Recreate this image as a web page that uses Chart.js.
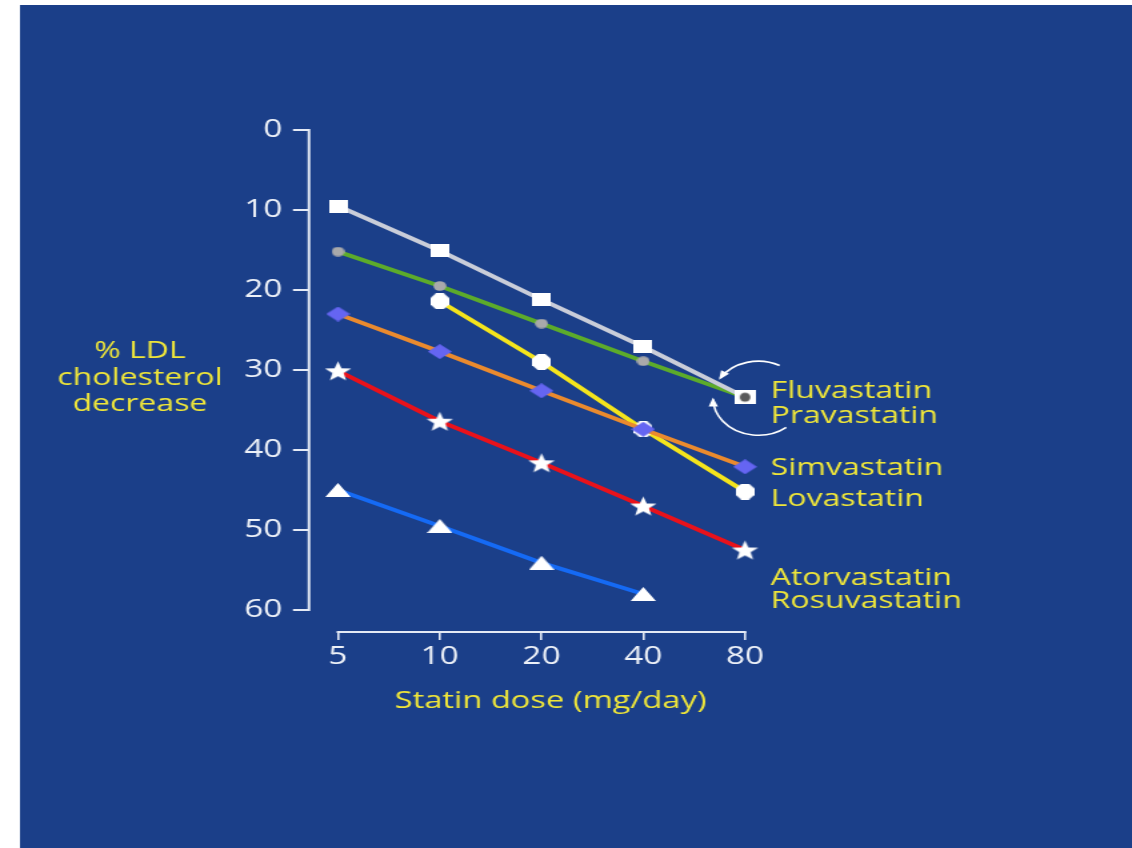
<!DOCTYPE html>
<html>
<head>
<meta charset="utf-8">
<script src="https://cdn.jsdelivr.net/npm/chart.js@4.4.1/dist/chart.umd.min.js"></script>
<style>
  html, body { margin: 0; padding: 0; background: #ffffff; }
  #chart { display: block; }
</style>
</head>
<body>
<!-- drawn on a narrower bitmap and widened by CSS, so the slide keeps its wide 4:3 look -->
<canvas id="chart" width="849" height="848" style="width:1132px;height:848px"></canvas>
<script>
// ---- data ----
const doses = ['5', '10', '20', '40', '80'];
const yTickValues = [0, 10, 20, 30, 40, 50, 60];
const fluvastatin  = [9.5, 15.1, 21.2, 27.1, 33.4];
const pravastatin  = [15.2, 19.5, 24.2, 28.9, 33.4];
const simvastatin  = [23.0, 27.7, 32.6, 37.4, 42.1];
const lovastatin   = [null, 21.4, 29.0, 37.4, 45.2];
const atorvastatin = [30.1, 36.4, 41.6, 47.0, 52.5];
const rosuvastatin = [45.0, 49.5, 54.1, 58.0, null];
const yTitleLines = ['% LDL', 'cholesterol', 'decrease'];
const xTitle = 'Statin dose (mg/day)';

// ---- look ----
const BG = '#1b3f89';
const AXIS = '#e4eaf5';
const YELLOW = '#efe63a';
const FONT = "'Open Sans', 'Noto Sans', sans-serif";

function toPoints(values) {
  const pts = [];
  values.forEach((v, i) => { if (v !== null) pts.push({ x: i, y: v }); });
  return pts;
}

function marker(w, h, paint) {
  const c = document.createElement('canvas');
  c.width = w; c.height = h;
  const g = c.getContext('2d');
  paint(g, w, h);
  return c;
}

const squareMark = marker(14, 13, (g, w, h) => { g.fillStyle = '#ffffff'; g.fillRect(0, 0, w, h); });
const pairMark = marker(16, 14, (g, w, h) => {
  g.fillStyle = '#ffffff'; g.fillRect(0, 0, w, h);
  g.fillStyle = '#5a5a5a';
  g.beginPath(); g.ellipse(w / 2, h / 2, 4, 4.5, 0, 0, Math.PI * 2); g.fill();
});
const dotMark = marker(10, 10, (g, w, h) => {
  g.fillStyle = '#a9a9ab';
  g.beginPath(); g.arc(w / 2, h / 2, 4.8, 0, Math.PI * 2); g.fill();
});
const diamondMark = marker(18, 15, (g, w, h) => {
  g.fillStyle = '#6565f2';
  g.beginPath(); g.moveTo(w / 2, 0); g.lineTo(w, h / 2); g.lineTo(w / 2, h); g.lineTo(0, h / 2); g.closePath(); g.fill();
});
const octagonMark = marker(14, 16, (g, w, h) => {
  g.fillStyle = '#ffffff';
  g.beginPath();
  for (let k = 0; k < 8; k++) {
    const a = Math.PI / 8 + k * Math.PI / 4;
    const px = w / 2 + (w / 2) * Math.cos(a) / Math.cos(Math.PI / 8);
    const py = h / 2 + (h / 2) * Math.sin(a) / Math.cos(Math.PI / 8);
    const qx = Math.max(0, Math.min(w, px)), qy = Math.max(0, Math.min(h, py));
    if (k === 0) g.moveTo(qx, qy); else g.lineTo(qx, qy);
  }
  g.closePath(); g.fill();
});
const starMark = marker(21, 21, (g, w, h) => {
  g.fillStyle = '#ffffff';
  g.beginPath();
  for (let k = 0; k < 10; k++) {
    const r = k % 2 === 0 ? 10.4 : 4.4;
    const a = -Math.PI / 2 + k * Math.PI / 5;
    const px = w / 2 + r * Math.cos(a), py = h / 2 + 1 + r * Math.sin(a);
    if (k === 0) g.moveTo(px, py); else g.lineTo(px, py);
  }
  g.closePath(); g.fill();
});
const triangleMark = marker(19, 14, (g, w, h) => {
  g.fillStyle = '#ffffff';
  g.beginPath(); g.moveTo(w / 2, 0); g.lineTo(w, h); g.lineTo(0, h); g.closePath(); g.fill();
});

function series(label, values, color, style) {
  return {
    label: label,
    data: toPoints(values),
    borderColor: color,
    backgroundColor: color,
    borderWidth: 4,
    pointStyle: style,
    pointRadius: 7,
    pointHoverRadius: 7,
    tension: 0,
    fill: false
  };
}

// the first dataset in this list is painted last (on top)
const datasets = [
  series('Fluvastatin', fluvastatin, '#c9cdd9', [squareMark, squareMark, squareMark, squareMark, pairMark]),
  series('Pravastatin', pravastatin, '#5cab2b', dotMark),
  series('Simvastatin', simvastatin, '#ea8a2e', diamondMark),
  series('Lovastatin', lovastatin, '#f4e41c', octagonMark),
  series('Atorvastatin', atorvastatin, '#e8121b', starMark),
  series('Rosuvastatin', rosuvastatin, '#156af4', triangleMark)
];

// names printed at the right-hand ends of the lines
const seriesNames = [
  { text: 'Fluvastatin', baseline: 397.5 },
  { text: 'Pravastatin', baseline: 423 },
  { text: 'Simvastatin', baseline: 475 },
  { text: 'Lovastatin', baseline: 506 },
  { text: 'Atorvastatin', baseline: 585 },
  { text: 'Rosuvastatin', baseline: 608 }
];

const slidePlugin = {
  id: 'slide',
  beforeDraw(chart) {
    const ctx = chart.ctx;
    ctx.save();
    ctx.fillStyle = '#ffffff';
    ctx.fillRect(0, 0, chart.width, chart.height);
    ctx.fillStyle = BG;
    ctx.fillRect(15, 5, chart.width - 15, chart.height - 5);
    ctx.restore();
  },
  beforeDatasetsDraw(chart) {
    const ctx = chart.ctx;
    const xs = chart.scales.x, ys = chart.scales.y;
    const area = chart.chartArea;
    ctx.save();
    ctx.strokeStyle = AXIS;
    ctx.lineWidth = 2;
    ctx.beginPath();
    ctx.moveTo(area.left, ys.getPixelForValue(yTickValues[0]) - 1);
    ctx.lineTo(area.left, ys.getPixelForValue(yTickValues[yTickValues.length - 1]) + 1);
    ctx.stroke();
    ctx.beginPath();
    ctx.moveTo(xs.getPixelForValue(0) - 1, area.bottom);
    ctx.lineTo(xs.getPixelForValue(doses.length - 1) + 1, area.bottom);
    ctx.stroke();
    ctx.restore();
  },
  afterDraw(chart) {
    const ctx = chart.ctx;
    const xs = chart.scales.x, ys = chart.scales.y;
    ctx.save();
    ctx.fillStyle = YELLOW;
    ctx.textBaseline = 'alphabetic';

    // axis titles
    ctx.font = '500 24px ' + FONT;
    ctx.textAlign = 'center';
    const yBase = [358, 385, 411];
    yTitleLines.forEach((t, i) => ctx.fillText(t, 105, yBase[i]));
    ctx.font = '500 24.5px ' + FONT;
    ctx.fillText(xTitle, 413, 708);

    // series names
    ctx.font = '500 24px ' + FONT;
    ctx.textAlign = 'left';
    seriesNames.forEach(n => ctx.fillText(n.text, 578, n.baseline));

    // curved arrows around the shared 80 mg end point
    const ex = xs.getPixelForValue(doses.length - 1);
    const ey = ys.getPixelForValue(fluvastatin[fluvastatin.length - 1]);
    const cx = ex + 10, cy = ey + 1, rx = 34, ry = 37;
    ctx.strokeStyle = '#ffffff';
    ctx.fillStyle = '#ffffff';
    ctx.lineWidth = 1.6;
    const deg = Math.PI / 180;
    function arrowHead(theta, dirSign) {
      const px = cx + rx * Math.cos(theta), py = cy + ry * Math.sin(theta);
      let dx = -rx * Math.sin(theta) * dirSign, dy = ry * Math.cos(theta) * dirSign;
      const len = Math.hypot(dx, dy); dx /= len; dy /= len;
      const nx = -dy, ny = dx, L = 7, W = 3.5;
      ctx.beginPath();
      ctx.moveTo(px + dx * 2, py + dy * 2);
      ctx.lineTo(px - dx * L + nx * W, py - dy * L + ny * W);
      ctx.lineTo(px - dx * L - nx * W, py - dy * L - ny * W);
      ctx.closePath();
      ctx.fill();
    }
    ctx.beginPath();
    ctx.ellipse(cx, cy, rx, ry, 0, -62 * deg, -147 * deg, true);
    ctx.stroke();
    arrowHead(-147 * deg, -1);
    ctx.beginPath();
    ctx.ellipse(cx, cy, rx, ry, 0, 52 * deg, 178 * deg, false);
    ctx.stroke();
    arrowHead(178 * deg, 1);
    ctx.restore();
  }
};

new Chart(document.getElementById('chart'), {
  type: 'line',
  data: { datasets: datasets },
  plugins: [slidePlugin],
  options: {
    responsive: false,
    animation: false,
    events: [],
    layout: { padding: { left: 131.75, right: 279, top: 130, bottom: 156 } },
    plugins: { legend: { display: false }, tooltip: { enabled: false } },
    scales: {
      x: {
        type: 'linear',
        min: -0.285,
        max: 4.147,
        afterBuildTicks: (scale) => { scale.ticks = doses.map((d, i) => ({ value: i })); },
        afterFit: (scale) => { scale.height = 60; },
        border: { display: false },
        grid: { display: true, drawOnChartArea: false, drawTicks: true, tickLength: 8, color: AXIS, lineWidth: 1.6 },
        ticks: {
          color: '#edf1f8',
          font: { family: FONT, size: 25, weight: '500' },
          padding: 2,
          maxRotation: 0,
          autoSkip: false,
          callback: (value, index) => doses[index]
        }
      },
      y: {
        type: 'linear',
        reverse: true,
        min: 0,
        max: 62.75,
        afterBuildTicks: (scale) => { scale.ticks = yTickValues.map(v => ({ value: v })); },
        afterFit: (scale) => { scale.width = 100; },
        border: { display: false },
        grid: { display: true, drawOnChartArea: false, drawTicks: true, tickLength: 12, color: AXIS, lineWidth: 2 },
        ticks: {
          color: '#edf1f8',
          font: { family: FONT, size: 25, weight: '500' },
          padding: 8,
          autoSkip: false
        }
      }
    }
  }
});
</script>
</body>
</html>
